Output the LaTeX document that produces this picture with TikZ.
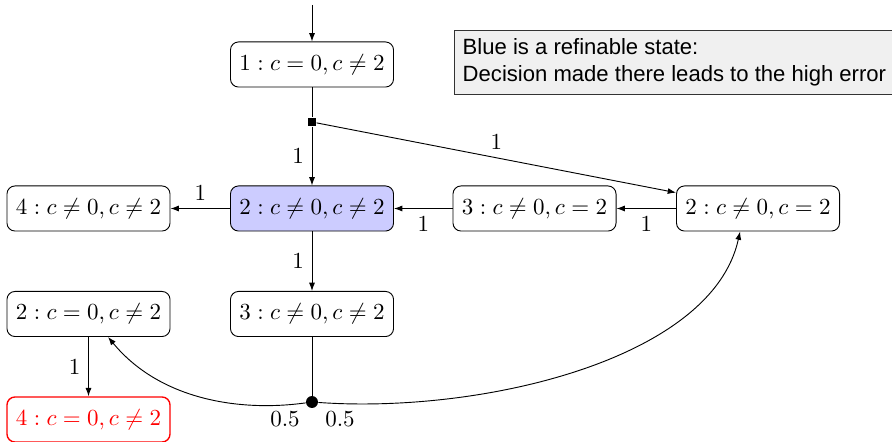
\documentclass[tikz,border=0pt]{standalone}
\usepackage{fontspec}
\newfontfamily\labelfont{Liberation Sans}
\usetikzlibrary{arrows.meta}
\begin{document}
\begin{tikzpicture}[x=0.4348pt,y=-0.4348pt,
  st/.style={draw,rounded corners=3.5pt,minimum height=19.6pt,inner xsep=3.9pt,inner ysep=2pt},
  arr/.style={-{Latex[length=3.6pt,width=2.6pt]}},
  lbl/.style={inner sep=3.33pt}]
\useasboundingbox (0,0) rectangle (892,442);
\coordinate (start) at (312,5);
\node[st] (n1) at (312,64.5) {$1: c=0, c\neq 2$};
\node[st,fill=blue!20] (n2) at (312,208.5) {$2: c\neq0, c\neq 2$};
\node[st] (n4a) at (88.5,208.5) {$4: c\neq0, c\neq 2$};
\node[st] (n3a) at (534.5,208.5) {$3: c\neq0, c= 2$};
\node[st] (n2b) at (758,208.5) {$2: c\neq0, c= 2$};
\node[st] (n2c) at (88.5,314) {$2: c=0, c\neq 2$};
\node[st] (n3b) at (312,314) {$3: c\neq0, c\neq 2$};
\node[st,draw=red,text=red,line width=0.6pt] (n4b) at (88.5,419.5) {$4: c=0, c\neq 2$};
\node[fill=black,minimum size=3.6pt,inner sep=0pt] (sq) at (312,122) {};
\node[circle,fill=black,minimum size=5.2pt,inner sep=0pt] (dot) at (312,402) {};
\node[draw=black!80,fill=black!6,anchor=north west,align=left,inner sep=3.6pt,
  font=\labelfont\fontsize{9.6pt}{11.7pt}\selectfont] (note) at (454,30)
  {Blue is a refinable state:\\Decision made there leads to the high error};
\node (h1) at (285,419) {$0.5$};
\node (h2) at (340,419) {$0.5$};
\draw[arr] (start) -- (n1);
\draw (n1) -- (sq);
\draw[arr] (sq) -- node[lbl,left] (l1) {$1$} (n2);
\draw[arr] (sq) -- node[lbl,above] (l2) {$1$} (n2b);
\draw[arr] (n2) -- node[lbl,above] (l3) {$1$} (n4a);
\draw[arr] (n3a) -- node[lbl,below] (l4) {$1$} (n2);
\draw[arr] (n2b) -- node[lbl,below] (l5) {$1$} (n3a);
\draw[arr] (n2) -- node[lbl,left] (l6) {$1$} (n3b);
\draw[arr] (n2c) -- node[lbl,left] (l7) {$1$} (n4b);
\draw (n3b) -- (dot);
\draw[arr] (dot) .. controls (240,412) and (160,400) .. ([xshift=8.5pt]n2c.south);
\draw[arr] (dot) .. controls (480,414) and (712,360) .. ([xshift=-7.8pt]n2b.south);
\end{tikzpicture}
\end{document}
